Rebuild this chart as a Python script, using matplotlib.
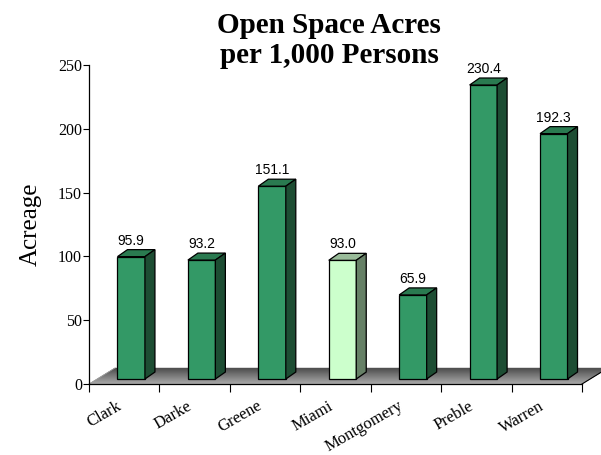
import numpy as np
import matplotlib
matplotlib.use("Agg")
import matplotlib.pyplot as plt
from matplotlib.patches import Polygon, Rectangle
from matplotlib.colors import LinearSegmentedColormap

counties = ["Clark", "Darke", "Greene", "Miami", "Montgomery", "Preble", "Warren"]
acres_per_1000 = [95.9, 93.2, 151.1, 93.0, 65.9, 230.4, 192.3]
highlight = "Miami"
y_ticks = [0, 50, 100, 150, 200, 250]

W, H, DPI = 601, 455, 100
AX_L, AX_R, AX_B, AX_T = 89, 582, 384, 65  # axes box in pixels

fig = plt.figure(figsize=(W / DPI, H / DPI), dpi=DPI)
fig.patch.set_facecolor("white")
ax = fig.add_axes([AX_L / W, (H - AX_B) / H, (AX_R - AX_L) / W, (AX_B - AX_T) / H])

n = len(counties)
ax.set_xlim(0, n)
ax.set_ylim(0, 250)

# pixel -> data conversion for the 3-D depth effect
px_x = n / (AX_R - AX_L)
px_y = 250 / (AX_B - AX_T)

floor_dx, floor_dy = 26 * px_x, 16 * px_y
front_dx, front_dy = 7 * px_x, 5 * px_y
depth_dx, depth_dy = 10 * px_x, 7 * px_y
bar_w = 0.39

serif = "Liberation Serif"
sans = "Liberation Sans"

# floor: parallelogram shaded in thin bands, light at the front, dark at the back
floor_cmap = LinearSegmentedColormap.from_list("floor", ["#aaaaaa", "#7c7c7c", "#4a4a4a"])
bands = 32
for k in range(bands):
    f0, f1 = k / bands, (k + 1) / bands
    ax.add_patch(Polygon([(f0 * floor_dx, f0 * floor_dy), (n + f0 * floor_dx, f0 * floor_dy),
                          (n + f1 * floor_dx, f1 * floor_dy), (f1 * floor_dx, f1 * floor_dy)],
                         closed=True, facecolor=floor_cmap((k + 0.5) / bands),
                         edgecolor=floor_cmap((k + 0.5) / bands), lw=0.3,
                         zorder=1, clip_on=False))
ax.plot([n, n + floor_dx], [0, floor_dy], color="black", lw=0.8, zorder=1.5, clip_on=False)
ax.plot([0, floor_dx], [0, floor_dy], color="#a0a0a0", lw=0.6, zorder=1.5, clip_on=False)

for i, (name, v) in enumerate(zip(counties, acres_per_1000)):
    if name == highlight:
        front_c, top_c, side_c = "#ccffcc", "#99bb99", "#668066"
    else:
        front_c, top_c, side_c = "#339966", "#2a7a50", "#1d4d33"
    x0 = i + 0.5 - bar_w / 2 + front_dx
    x1 = x0 + bar_w
    y0 = front_dy
    y1 = front_dy + v
    ax.add_patch(Rectangle((x0, y0), bar_w, v, facecolor=front_c, edgecolor="black",
                           lw=0.9, zorder=3, clip_on=False))
    ax.add_patch(Polygon([(x0, y1), (x1, y1), (x1 + depth_dx, y1 + depth_dy),
                          (x0 + depth_dx, y1 + depth_dy)], closed=True,
                         facecolor=top_c, edgecolor="black", lw=0.9, zorder=3, clip_on=False))
    ax.add_patch(Polygon([(x1, y0), (x1 + depth_dx, y0 + depth_dy),
                          (x1 + depth_dx, y1 + depth_dy), (x1, y1)], closed=True,
                         facecolor=side_c, edgecolor="black", lw=0.9, zorder=3, clip_on=False))
    ax.text((x0 + x1) / 2, y1 + depth_dy + 2 * px_y, f"{v:.1f}", ha="center", va="bottom",
            fontsize=10, family=sans, color="black", zorder=4)
    ax.text(i + 0.5 - 4 * px_x, -21 * px_y, name, rotation=30, rotation_mode="anchor",
            ha="right", va="center", fontsize=12, family=serif, clip_on=False)

ax.set_xticks(range(n + 1))
ax.set_xticklabels([])
ax.set_yticks(y_ticks)
ax.set_yticklabels([str(t) for t in y_ticks], family=serif, fontsize=11.5)
ax.tick_params(axis="y", direction="out", length=4, width=0.8, pad=1)
ax.tick_params(axis="x", direction="out", length=6, width=0.8)
for s in ("top", "right"):
    ax.spines[s].set_visible(False)
for s in ("left", "bottom"):
    ax.spines[s].set_linewidth(0.9)
    ax.spines[s].set_zorder(2)
ax.set_facecolor("none")

ax.set_ylabel("Acreage", family=serif, fontsize=18, labelpad=12)
fig.text(329 / W, 1 - 12 / H, "Open Space Acres\nper 1,000 Persons", ha="center", va="top",
         family=serif, fontsize=21, fontweight="bold", linespacing=1.16)

fig.savefig("out.png", dpi=DPI)
